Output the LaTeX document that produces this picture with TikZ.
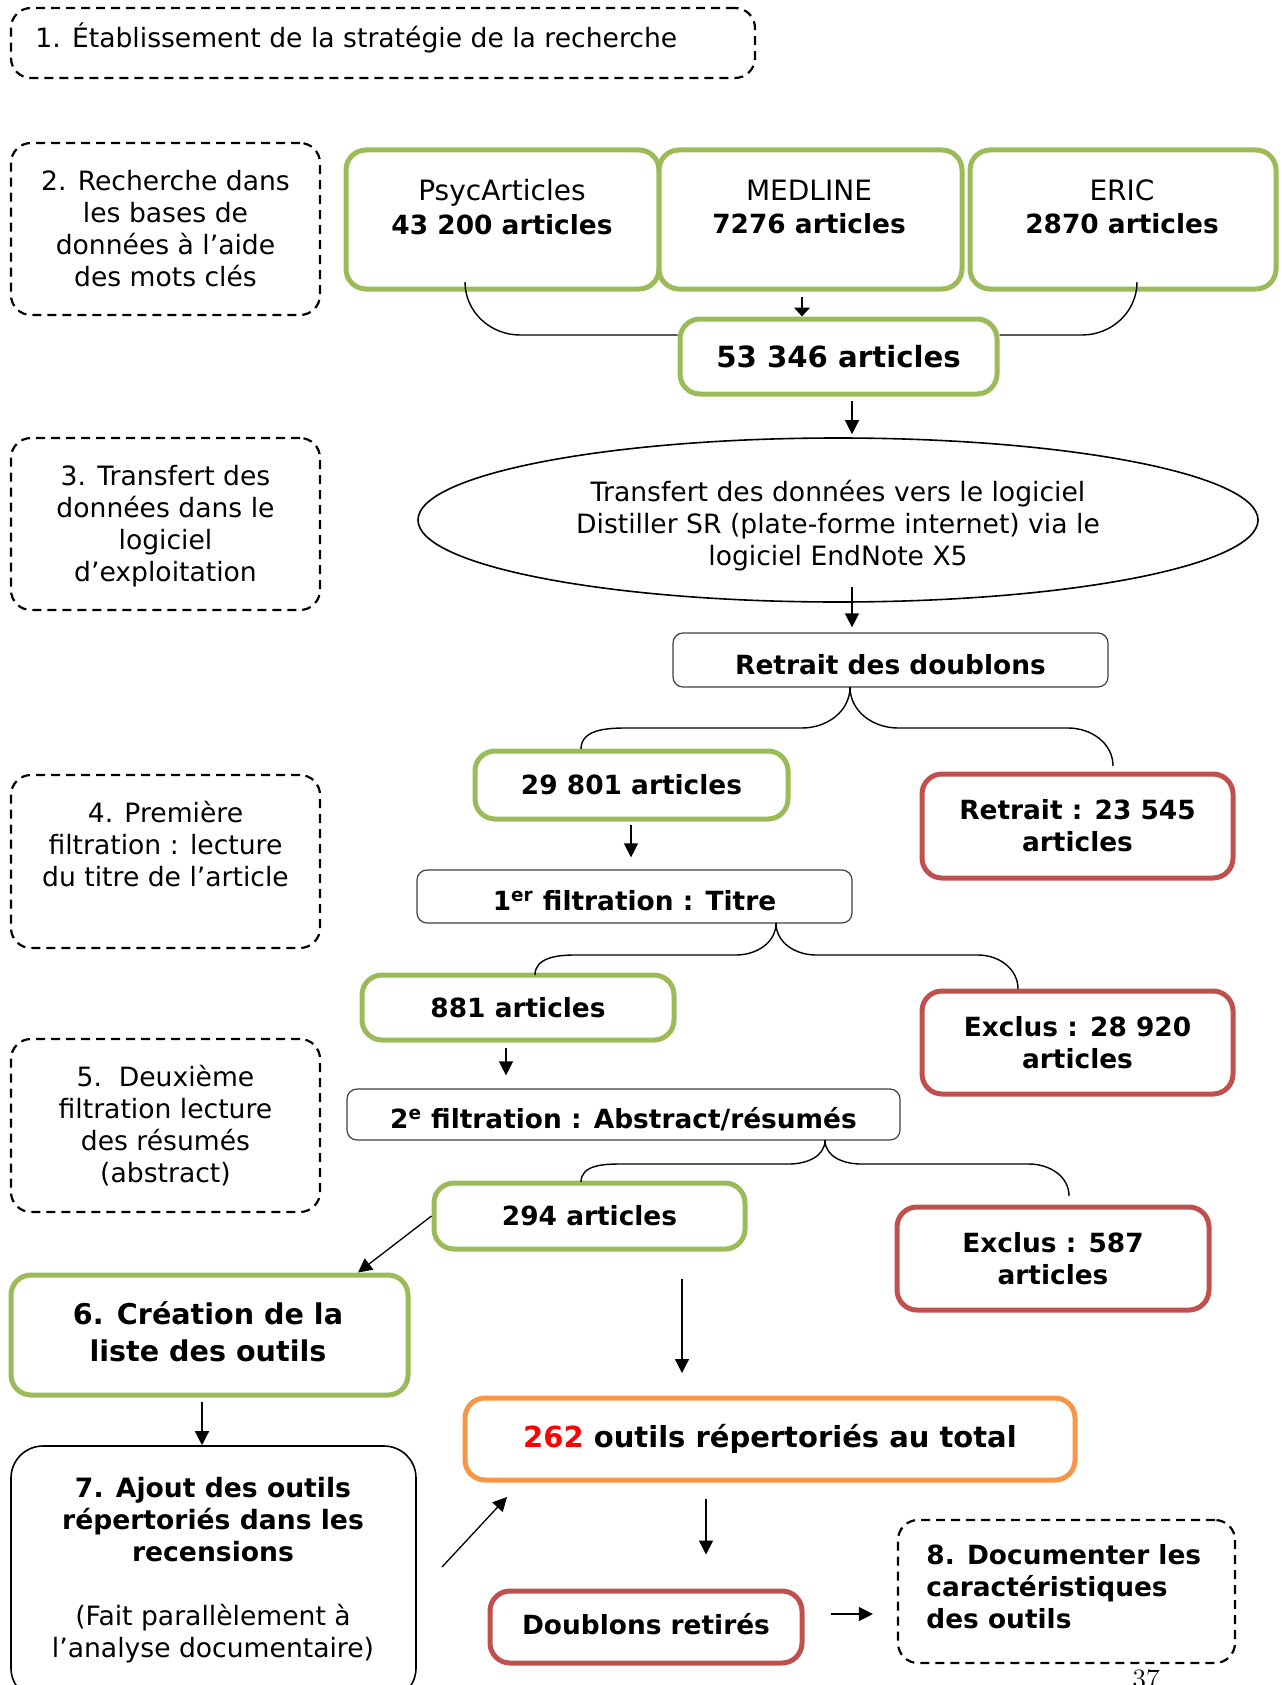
\documentclass[tikz,border=0pt]{standalone}
\usepackage{fontspec}
\setsansfont{DejaVu Sans}
\usetikzlibrary{arrows.meta,calc,shapes.geometric}
\definecolor{grn}{RGB}{155,187,89}
\definecolor{rdd}{RGB}{192,80,77}
\definecolor{org}{RGB}{247,150,70}
\begin{document}
\begin{tikzpicture}[x=0.5pt,y=-0.5pt,
 reg/.style={font=\sffamily\fontsize{13.3}{16}\selectfont, align=center, inner sep=0pt},
 bld/.style={font=\sffamily\bfseries\fontsize{13.2}{16}\selectfont, align=center},
 tit/.style={font=\sffamily\fontsize{14}{16.75}\selectfont, align=center, inner sep=0pt},
 box/.style={inner sep=0pt, rounded corners=10pt},
 greenbox/.style={box, draw=grn, line width=2.5pt, fill=white},
 redbox/.style={box, draw=rdd, line width=2.5pt, fill=white},
 orangebox/.style={box, draw=org, line width=2.5pt, fill=white},
 dashbox/.style={box, draw, line width=1.1pt, dash pattern=on 4.5pt off 3pt},
 thinbox/.style={box, draw=black!75, line width=0.6pt, rounded corners=5pt, fill=white, text height=14pt, text depth=0pt},
 arr/.style={-{Triangle[length=7pt,width=7pt]}, line width=0.65pt},
 con/.style={line width=0.7pt},
]
\useasboundingbox (0,0) rectangle (1281,1685);
\clip (0,0) rectangle (1281,1685);

% ---- left column of steps
\node[dashbox, minimum width=372pt, minimum height=35pt] (s1) at (383,43) {};
\node[reg, anchor=base west] (s1t) at (35,48) {1. Établissement de la stratégie de la recherche};
\node[dashbox, reg, minimum width=154.5pt, minimum height=86pt] (s2) at (165.5,229) {2. Recherche dans\\les bases de\\données à l’aide\\des mots clés};
\node[dashbox, minimum width=154.5pt, minimum height=86pt] (s3) at (165.5,524) {};
\node[reg] (s3t) at (165.5,526) {3. Transfert des\\données dans le\\logiciel\\d’exploitation};
\node[dashbox, minimum width=154.5pt, minimum height=86.5pt] (s4) at (165.5,861.5) {};
\node[reg] (s4t) at (165.5,844) {4. Première\\filtration : lecture\\du titre de l’article};
\node[dashbox, reg, minimum width=154.5pt, minimum height=86.5pt] (s5) at (165.5,1125.5) {5.\ \ Deuxième\\filtration lecture\\des résumés\\(abstract)};

% ---- databases
\node[greenbox, minimum width=156.5pt, minimum height=69.5pt] (psyc) at (502.5,219.5) {};
\node[tit] (psyct) at (502,207) {PsycArticles\\{\fontsize{13.2}{16.75}\selectfont\bfseries 43 200 articles}};
\node[greenbox, minimum width=151.5pt, minimum height=69.5pt] (med) at (810.5,219.5) {};
\node[tit] (medt) at (809,207) {MEDLINE\\{\fontsize{13.2}{16.75}\selectfont\bfseries 7276 articles}};
\node[greenbox, minimum width=153pt, minimum height=69.5pt] (eric) at (1123,219.5) {};
\node[tit] (erict) at (1122,207) {ERIC\\{\fontsize{13.2}{16.75}\selectfont\bfseries 2870 articles}};

\node[greenbox, minimum width=158.5pt, minimum height=37.5pt, font=\sffamily\bfseries\fontsize{14.6}{17}\selectfont] (total) at (838.5,356.5) {53 346 articles};

\node[ellipse, draw, line width=0.8pt, minimum width=420pt, minimum height=82pt, inner sep=0pt] (ell) at (838,520) {};
\node[reg] (ellt) at (838,526) {Transfert des données vers le logiciel\\Distiller SR (plate-forme internet) via le\\logiciel EndNote X5};

\node[thinbox, bld, minimum width=217.5pt, minimum height=27pt] (rd1) at (890.5,660) {Retrait des doublons};

\node[greenbox, bld, minimum width=156.5pt, minimum height=34pt] (a29) at (631.5,785) {29 801 articles};
\node[redbox, bld, minimum width=155.5pt, minimum height=52pt] (x1) at (1077.5,826) {Retrait : 23 545\\articles};

\node[thinbox, bld, minimum width=217.5pt, minimum height=26.5pt] (f1) at (634.5,896.5) {1\textsuperscript{er} filtration : Titre};

\node[greenbox, bld, minimum width=156pt, minimum height=32.5pt] (a881) at (518,1007.5) {881 articles};
\node[redbox, bld, minimum width=155.5pt, minimum height=51.5pt] (x2) at (1077.5,1042.5) {Exclus : 28 920\\articles};

\node[thinbox, bld, minimum width=276.5pt, minimum height=25.5pt] (f2) at (623.5,1114.5) {2\textsuperscript{e} filtration : Abstract/résumés};

\node[greenbox, bld, minimum width=155.5pt, minimum height=33pt] (a294) at (589.5,1216) {294 articles};
\node[redbox, bld, minimum width=156pt, minimum height=51.5pt] (x3) at (1053,1258.5) {Exclus : 587\\articles};

\node[greenbox, minimum width=198.5pt, minimum height=60pt] (s6) at (209.5,1335) {};
\node[font=\sffamily\bfseries\fontsize{14.3}{18.5}\selectfont, align=center, inner sep=0pt] (s6t) at (208,1331.5) {6. Création de la\\liste des outils};

\node[draw, line width=0.8pt, rounded corners=16pt, minimum width=202.5pt, minimum height=127pt, inner sep=0pt] (s7) at (213.5,1573) {};
\node[reg] (s7t) at (213,1570) {\textbf{7. Ajout des outils}\\\textbf{répertoriés dans les}\\\textbf{recensions}\\[16pt](Fait parallèlement à\\l’analyse documentaire)};

\node[orangebox, font=\sffamily\bfseries\fontsize{14.5}{17}\selectfont, minimum width=305pt, minimum height=41pt] (tot2) at (770,1439) {{\color{red}262} outils répertoriés au total};

\node[redbox, bld, minimum width=156pt, minimum height=36pt, text height=7.2pt, text depth=0pt] (dr) at (646,1627) {Doublons retirés};

\node[dashbox, minimum width=168.5pt, minimum height=71.5pt] (s8) at (1066.5,1591.5) {};
\node[bld, align=left, anchor=west, inner sep=0pt] (s8t) at (926,1587) {8. Documenter les\\caractéristiques\\des outils};

\node[font=\rmfamily\fontsize{14}{16}\selectfont, anchor=north, inner sep=0pt] (pg) at (1146,1669) {37};

% ---- connectors
\coordinate (tb1) at (465,282);
\coordinate (tb2) at (1137,282);
\coordinate (tbh) at (0,335);
\draw[con] (tb1) to[out=-90,in=180] ($(tb1|-tbh)+(55,0)$) -- (total.west|-tbh);
\draw[con] (tb2) to[out=-90,in=0] ($(tb2|-tbh)+(-55,0)$) -- (total.east|-tbh);
\coordinate (cm) at (802,297);
\draw[-{Triangle[length=4.5pt,width=8pt]}, line width=0.65pt] (cm) -- (total.north -| cm);

\coordinate (c1) at (852,0);
\draw[arr, shorten <=2pt, shorten >=1.5pt] (total.south -| c1) -- (ell.north -| c1);
\draw[arr, shorten >=2.5pt] ($(ell.south -| c1)+(0,-16)$) -- (rd1.north -| c1);

% brace 2
\coordinate (b2m) at (850,687);
\coordinate (b2l) at (581,749);
\coordinate (b2r) at (1113,766);
\coordinate (b2h) at (0,728);
\draw[con] (b2m) to[out=-90,in=0] ($(b2m|-b2h)+(-48,0)$) -- ($(b2l|-b2h)+(45,0)$) to[out=180,in=90] (b2l);
\draw[con] (b2m) to[out=-90,in=180] ($(b2m|-b2h)+(48,0)$) -- ($(b2r|-b2h)+(-45,0)$) to[out=0,in=90] (b2r);

\coordinate (c2) at (631,0);
\draw[arr, shorten <=1.5pt, shorten >=6pt] (a29.south -| c2) -- (f1.north -| c2);

% brace 3
\coordinate (b3m) at (776,923);
\coordinate (b3l) at (535,975);
\coordinate (b3r) at (1018,989);
\coordinate (b3h) at (0,955);
\draw[con] (b3m) to[out=-90,in=0] ($(b3m|-b3h)+(-40,0)$) -- ($(b3l|-b3h)+(40,0)$) to[out=180,in=90] (b3l);
\draw[con] (b3m) to[out=-90,in=180] ($(b3m|-b3h)+(40,0)$) -- ($(b3r|-b3h)+(-40,0)$) to[out=0,in=90] (b3r);

\coordinate (c3) at (506,0);
\draw[arr, shorten <=2.5pt, shorten >=6.5pt] (a881.south -| c3) -- (f2.north -| c3);

% brace 4
\coordinate (b4m) at (825,1140);
\coordinate (b4l) at (581,1182);
\coordinate (b4r) at (1069,1196);
\coordinate (b4h) at (0,1164);
\draw[con] (b4m) to[out=-90,in=0] ($(b4m|-b4h)+(-36,0)$) -- ($(b4l|-b4h)+(40,0)$) to[out=180,in=90] (b4l);
\draw[con] (b4m) to[out=-90,in=180] ($(b4m|-b4h)+(36,0)$) -- ($(b4r|-b4h)+(-40,0)$) to[out=0,in=90] (b4r);

\coordinate (c6) at (358,0);
\draw[arr] (a294.west) -- (s6.north -| c6);
\coordinate (c7) at (202,0);
\draw[arr, shorten <=2pt] (s6.south -| c7) -- (s7.north -| c7);

\coordinate (fa1) at (682,1279);
\coordinate (fa2) at (682,1373);
\draw[arr] (fa1) -- (fa2);

\coordinate (d1) at (442,1567);
\coordinate (d2) at (507,1497);
\draw[arr] (d1) -- (d2);

\coordinate (c8) at (706,0);
\draw[arr, shorten <=8pt, shorten >=17pt] (tot2.south -| c8) -- (dr.north -| c8);

\coordinate (c9) at (0,1614);
\draw[arr, shorten <=13pt, shorten >=12pt] (dr.east |- c9) -- (s8.west |- c9);
\end{tikzpicture}
\end{document}
